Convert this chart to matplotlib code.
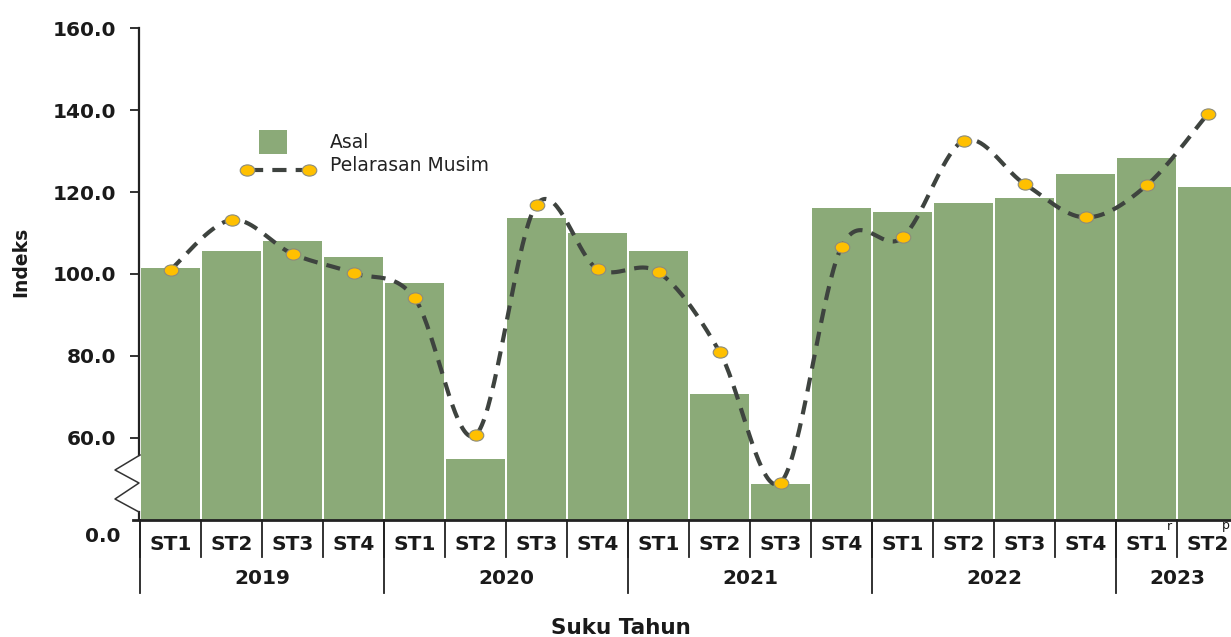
import matplotlib
matplotlib.use("Agg")
import matplotlib.pyplot as plt
import numpy as np
from matplotlib.path import Path
from matplotlib.lines import Line2D
from matplotlib.patches import Rectangle

# ---------------- data ----------------
years = ["2019", "2020", "2021", "2022", "2023"]
quarters_per_year = [4, 4, 4, 4, 2]
quarter_labels = ["ST1", "ST2", "ST3", "ST4",
                  "ST1", "ST2", "ST3", "ST4",
                  "ST1", "ST2", "ST3", "ST4",
                  "ST1", "ST2", "ST3", "ST4",
                  "ST1", "ST2"]
asal = [101.5, 105.6, 108.1, 104.1,
        97.7, 54.9, 113.6, 110.1,
        105.7, 70.6, 48.6, 116.1,
        115.2, 117.3, 118.5, 124.4,
        128.4, 121.2]
pelarasan = [101.0, 113.2, 104.9, 100.2,
             94.1, 60.6, 116.9, 101.2,
             100.4, 81.0, 49.0, 106.6,
             108.9, 132.5, 122.0, 113.8,
             121.6, 139.0]
ytick_vals = [60, 80, 100, 120, 140, 160]
ytick_labels = ["60.0", "80.0", "100.0", "120.0", "140.0", "160.0"]
series_names = ["Asal", "Pelarasan Musim"]

# ---------------- figure ----------------
W, H = 1231, 637
fig = plt.figure(figsize=(W / 100, H / 100), dpi=100)

def fx(px):
    return px / W

def fy(py):
    return 1 - py / H

ax_left, ax_right, ax_top, ax_bot = 140, 1238, 28.3, 519.5
ax = fig.add_axes([fx(ax_left), fy(ax_bot), fx(ax_right - ax_left), (ax_bot - ax_top) / H])

GREEN = "#8BAA78"
LINEC = "#3E433F"
GOLD = "#FFC000"
MEDGE = "#8C8C7C"
BOLDFONT = "DejaVu Sans"
LEGFONT = "DejaVu Sans"
TXT = "#1a1a1a"
TS = 14.5

n = len(asal)
x = np.arange(n)
ax.bar(x, asal, width=0.965, color=GREEN, zorder=1)
ax.set_xlim(-0.5, n - 0.5)
ax.set_ylim(40, 160)

# smooth (Excel style) curve through the points
pts = np.column_stack([x, pelarasan]).astype(float)
ext = np.vstack([pts[0], pts, pts[-1]])
curve = []
t = np.linspace(0, 1, 40)
for i in range(n - 1):
    p0, p1, p2, p3 = ext[i], ext[i + 1], ext[i + 2], ext[i + 3]
    b0 = p1
    b1 = p1 + (p2 - p0) / 6
    b2 = p2 - (p3 - p1) / 6
    b3 = p2
    seg = ((1 - t) ** 3)[:, None] * b0 + (3 * (1 - t) ** 2 * t)[:, None] * b1 \
        + (3 * (1 - t) * t ** 2)[:, None] * b2 + (t ** 3)[:, None] * b3
    curve.append(seg if i == 0 else seg[1:])
curve = np.vstack(curve)
ax.plot(curve[:, 0], curve[:, 1], color=LINEC, lw=3.0, dashes=(3.4, 2.2), zorder=3)

ell = Path.unit_circle().transformed(matplotlib.transforms.Affine2D().scale(1.3, 1.0))
ax.plot(x, pelarasan, linestyle="none", marker=ell, markersize=10.5,
        markerfacecolor=GOLD, markeredgecolor=MEDGE, markeredgewidth=0.8, zorder=4)

# y axis ticks
ax.set_yticks(ytick_vals)
ax.set_yticklabels(ytick_labels, fontfamily=BOLDFONT, fontweight="bold", fontsize=TS, color=TXT)
ax.tick_params(axis="y", length=7, width=1.3, pad=10, color="#222222")
ax.set_xticks([])
for s in ["top", "right", "left", "bottom"]:
    ax.spines[s].set_visible(False)

# manual spines / axis break
def fline(xs, ys, **kw):
    fig.add_artist(Line2D([fx(v) for v in xs], [fy(v) for v in ys], **kw))

fline([139, 139], [28.3, 455], color="#222222", lw=1.6)
fline([139, 139], [512, 520], color="#222222", lw=1.6)
fline([140, 115, 139, 115, 139], [455, 470, 483, 499, 512], color="#333333", lw=1.1)
fline([133, W], [520, 520], color="#222222", lw=2.0)

fig.text(fx(120), fy(536), "0.0", ha="right", va="center", fontfamily=BOLDFONT,
         fontweight="bold", fontsize=TS, color=TXT)

# category axis
cw = (ax_right - ax_left) / n
for i in range(n + 1):
    xb = ax_left + i * cw
    fline([xb, xb], [520, 557], color="#222222", lw=1.3)
for i, lab in enumerate(quarter_labels):
    fig.text(fx(ax_left + (i + 0.5) * cw), fy(544), lab, ha="center", va="center",
             fontfamily=BOLDFONT, fontweight="bold", fontsize=TS, color=TXT)
start = 0
for yr, q in zip(years, quarters_per_year):
    xb = ax_left + start * cw
    fline([xb, xb], [520, 593], color="#222222", lw=1.3)
    fig.text(fx(ax_left + (start + q / 2) * cw), fy(579), yr, ha="center", va="center",
             fontfamily=BOLDFONT, fontweight="bold", fontsize=TS, color=TXT)
    start += q

fig.text(fx(1169), fy(526), "r", ha="center", va="center", fontfamily=BOLDFONT, fontsize=9, color=TXT)
fig.text(fx(1226), fy(526), "p", ha="center", va="center", fontfamily=BOLDFONT, fontsize=9, color=TXT)

# axis titles
fig.text(fx(21), fy(262), "Indeks", rotation=90, ha="center", va="center",
         fontfamily=BOLDFONT, fontweight="bold", fontsize=13.5, color=TXT)
fig.text(fx(621), fy(628), "Suku Tahun", ha="center", va="center",
         fontfamily=BOLDFONT, fontweight="bold", fontsize=15.5, color=TXT)

# legend (manual)
fig.add_artist(Rectangle((fx(259), fy(154)), fx(28), 24 / H, facecolor=GREEN, edgecolor="none"))
fline([249, 307], [170, 170], color=LINEC, lw=3.0, dashes=(3.4, 2.2))
fig.add_artist(Line2D([fx(247), fx(309)], [fy(170), fy(170)], linestyle="none", marker=ell,
                      markersize=10.5, markerfacecolor=GOLD, markeredgecolor=MEDGE, markeredgewidth=0.8))
fig.text(fx(330), fy(143), series_names[0], ha="left", va="center", fontfamily=LEGFONT,
         fontsize=13.5, color="#222222")
fig.text(fx(330), fy(166), series_names[1], ha="left", va="center", fontfamily=LEGFONT,
         fontsize=13.5, color="#222222")

fig.savefig("out.png", dpi=100)
